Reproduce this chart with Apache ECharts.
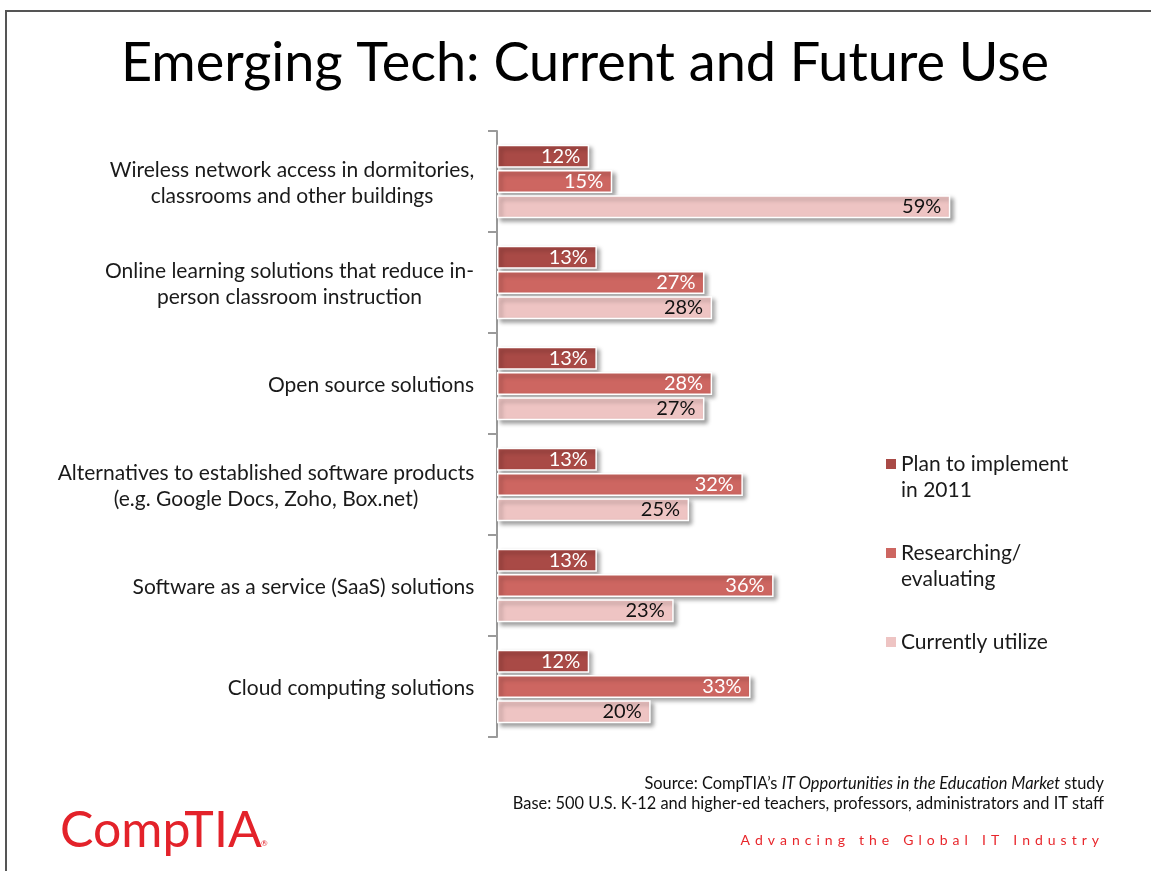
<!DOCTYPE html>
<html>
<head>
<meta charset="utf-8">
<script src="https://cdn.jsdelivr.net/npm/echarts@6/dist/echarts.min.js"></script>
<style>
  html, body { margin: 0; padding: 0; background: #fff; }
  #chart { width: 1151px; height: 871px; }
</style>
</head>
<body>
<div id="chart"></div>
<script>
// Survey categories, listed top to bottom
const categories = [
  'Wireless network access in dormitories,\nclassrooms and other buildings',
  'Online learning solutions that reduce in-\nperson classroom instruction',
  'Open source solutions',
  'Alternatives to established software products\n(e.g. Google Docs, Zoho, Box.net)',
  'Software as a service (SaaS) solutions',
  'Cloud computing solutions'
];

const seriesNames = ['Plan to implement in 2011', 'Researching/ evaluating', 'Currently utilize'];
// Two-line legend entries get a blank leading line so the swatch sits beside the first line
const legendLabels = [' \nPlan to implement\nin 2011', ' \nResearching/\nevaluating', 'Currently utilize'];

// Share of respondents (%)
const planToImplement = [12, 13, 13, 13, 13, 12];
const researching = [15, 27, 28, 32, 36, 33];
const currentlyUtilize = [59, 28, 27, 25, 23, 20];

const seriesColors = ['#A94A46', '#CD6661', '#EEC4C3'];
const FONT = 'Lato';
const LABEL_SIZE = 21;

// Measure each category label so its lines can be centred within a right-aligned block
const measureCtx = document.createElement('canvas').getContext('2d');
measureCtx.font = LABEL_SIZE + 'px ' + FONT;
const labelRich = {};
categories.forEach((cat, i) => {
  const w = Math.max(...cat.split('\n').map(l => measureCtx.measureText(l).width));
  labelRich['c' + i] = {
    width: Math.ceil(w) + 1, align: 'center',
    fontSize: LABEL_SIZE, lineHeight: 26, fontFamily: FONT, color: '#1a1a1a'
  };
});

const chart = echarts.init(document.getElementById('chart'));

const barSeries = [planToImplement, researching, currentlyUtilize].map((data, i) => ({
  name: seriesNames[i],
  type: 'bar',
  data: data,
  barWidth: 23,
  barGap: '10%',
  itemStyle: {
    color: seriesColors[i],
    borderColor: '#ffffff',
    borderWidth: 1.5,
    shadowColor: 'rgba(0,0,0,0.35)',
    shadowBlur: 4,
    shadowOffsetX: 3,
    shadowOffsetY: 3
  },
  label: {
    show: true,
    position: 'insideRight',
    distance: 9,
    formatter: '{c}%',
    color: i < 2 ? '#ffffff' : '#111111',
    fontSize: 20,
    fontFamily: FONT
  },
  emphasis: { disabled: true }
}));

const legendTops = [425, 514, 629];
const legends = seriesNames.map((name, i) => ({
  data: [name],
  left: 886,
  top: legendTops[i],
  orient: 'vertical',
  padding: 0,
  icon: 'rect',
  itemWidth: 10,
  itemHeight: 10,
  selectedMode: false,
  formatter: n => legendLabels[seriesNames.indexOf(n)],
  itemStyle: { borderWidth: 0, shadowBlur: 0, shadowOffsetX: 0, shadowOffsetY: 0, shadowColor: 'transparent' },
  textStyle: { fontSize: 21, lineHeight: 26, fontFamily: FONT, color: '#1a1a1a' }
}));

// Letter-spaced tagline built from individual tokens
const tagline = 'Advancing the Global IT Industry';
const taglineText = tagline.split('').map(ch => ch === ' ' ? '{g| }' : '{s|' + ch + '}').join('');

chart.setOption({
  animation: false,
  backgroundColor: '#ffffff',
  grid: { left: 497, right: 193, top: 131, bottom: 134, containLabel: false },
  xAxis: { type: 'value', min: 0, max: 60, show: false },
  yAxis: {
    type: 'category',
    inverse: true,
    data: categories,
    axisLine: { show: true, lineStyle: { color: '#9a9a9a', width: 2 } },
    axisTick: { show: true, length: 9, lineStyle: { color: '#9a9a9a', width: 2 } },
    axisLabel: {
      margin: 22,
      align: 'right',
      padding: [3, 0, 0, 0],
      formatter: (value, index) => value.split('\n').map(l => '{c' + index + '|' + l + '}').join('\n'),
      rich: labelRich
    }
  },
  legend: legends,
  series: barSeries,
  graphic: [
    {
      type: 'polyline',
      shape: { points: [[6, 871], [6, 11], [1151, 11]] },
      style: { stroke: '#555555', lineWidth: 2, fill: null },
      silent: true
    },
    {
      type: 'text',
      x: 585, y: 64,
      style: {
        text: 'Emerging Tech: Current and Future Use',
        fontSize: 54, fontFamily: FONT, fill: '#000000',
        align: 'center', verticalAlign: 'middle'
      }
    },
    {
      type: 'text',
      x: 1104, y: 784,
      style: {
        text: '{n|Source: CompTIA’s }{i|IT Opportunities in the Education Market}{n| study}',
        align: 'right', verticalAlign: 'middle',
        rich: {
          n: { fontSize: 16.4, fontFamily: FONT, fill: '#111111' },
          i: { fontSize: 16.4, fontFamily: FONT, fontStyle: 'italic', fill: '#111111' }
        }
      }
    },
    {
      type: 'text',
      x: 1104, y: 804,
      style: {
        text: 'Base: 500 U.S. K-12 and higher-ed teachers, professors, administrators and IT staff',
        fontSize: 16.4, fontFamily: FONT, fill: '#111111',
        align: 'right', verticalAlign: 'middle'
      }
    },
    {
      type: 'text',
      x: 1104, y: 840,
      style: {
        text: taglineText,
        align: 'right', verticalAlign: 'middle',
        rich: {
          s: { fontSize: 14, fontFamily: FONT, fill: '#E8262B', padding: [0, 5, 0, 0] },
          g: { fontSize: 14, fontFamily: FONT, fill: '#E8262B', padding: [0, 5.5, 0, 0] }
        }
      }
    },
    {
      type: 'text',
      x: 60, y: 831,
      style: {
        text: 'CompTIA',
        fontSize: 50, fontFamily: FONT, fill: '#E3222A',
        align: 'left', verticalAlign: 'middle'
      }
    },
    {
      type: 'text',
      x: 261, y: 843,
      style: {
        text: '®',
        fontSize: 8, fontFamily: FONT, fill: '#E3222A',
        align: 'left', verticalAlign: 'middle'
      }
    }
  ]
});
</script>
</body>
</html>
